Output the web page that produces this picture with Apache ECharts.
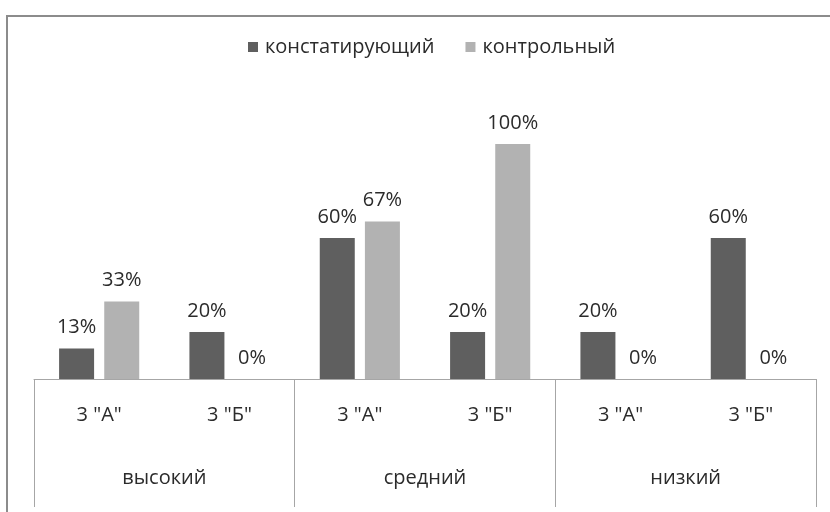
<!DOCTYPE html>
<html>
<head>
<meta charset="utf-8">
<script src="https://cdn.jsdelivr.net/npm/echarts@6/dist/echarts.min.js"></script>
<style>
  html, body { margin: 0; padding: 0; background: #fff; }
  #chart { width: 830px; height: 512px; }
</style>
</head>
<body>
<div id="chart"></div>
<script>
// Classes within each level, and the levels themselves
const classes = ['3 "А"', '3 "Б"', '3 "А"', '3 "Б"', '3 "А"', '3 "Б"'];
const levels = ['высокий', 'средний', 'низкий'];
const seriesNames = ['констатирующий', 'контрольный'];
// Share of pupils, %
const ascertaining = [13, 20, 60, 20, 20, 60];
const control = [33, 0, 67, 100, 0, 0];

const FONT = 'Open Sans';
const FS = 20;
const TEXT = '#2b2b2b';
const LINE = '#a6a6a6';

const chart = echarts.init(document.getElementById('chart'));
chart.setOption({
  animation: false,
  textStyle: { fontFamily: FONT },
  graphic: [{
    type: 'rect',
    shape: { x: 7, y: 16, width: 900, height: 600 },
    style: { fill: 'none', stroke: '#8c8c8c', lineWidth: 2 },
    silent: true
  }],
  legend: {
    top: 32,
    left: 243,
    itemWidth: 10,
    itemHeight: 10,
    itemGap: 31,
    icon: 'rect',
    textStyle: { fontFamily: FONT, fontSize: FS, color: TEXT, padding: [0, 0, 0, 2] },
    data: seriesNames
  },
  grid: { left: 34, right: 14, top: 144, bottom: 133, containLabel: false },
  xAxis: [{
    type: 'category',
    data: classes,
    position: 'bottom',
    axisLine: { show: true, lineStyle: { color: LINE, width: 1 } },
    axisTick: { show: false },
    axisLabel: { margin: 26, fontFamily: FONT, fontSize: FS, color: TEXT, interval: 0 }
  }, {
    type: 'category',
    data: levels,
    position: 'bottom',
    axisLine: { show: false },
    axisTick: { show: true, length: 128, interval: 0, alignWithLabel: false, lineStyle: { color: LINE, width: 1 } },
    axisLabel: { margin: 89, fontFamily: FONT, fontSize: FS, color: TEXT, interval: 0 }
  }],
  yAxis: { type: 'value', show: false, min: 0, max: 100 },
  series: [{
    name: seriesNames[0],
    type: 'bar',
    xAxisIndex: 0,
    data: ascertaining,
    barWidth: 35,
    barGap: '29%',
    itemStyle: { color: '#5f5f5f' },
    label: { show: true, position: 'top', distance: 11, formatter: '{c}%', fontFamily: FONT, fontSize: FS, color: TEXT }
  }, {
    name: seriesNames[1],
    type: 'bar',
    xAxisIndex: 0,
    data: control,
    barWidth: 35,
    itemStyle: { color: '#b2b2b2' },
    label: { show: true, position: 'top', distance: 11, formatter: '{c}%', fontFamily: FONT, fontSize: FS, color: TEXT }
  }]
});
</script>
</body>
</html>
